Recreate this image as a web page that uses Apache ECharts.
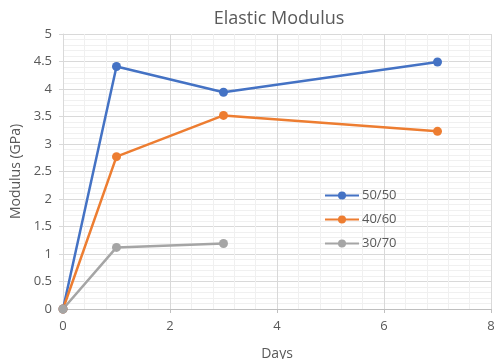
<!DOCTYPE html>
<html><head><meta charset="utf-8">
<script src="https://cdn.jsdelivr.net/npm/echarts@6/dist/echarts.min.js"></script>
<style>html,body{margin:0;padding:0;background:#fff}#c{width:495px;height:359px}</style>
</head><body><div id="c"></div>
<script>
const seriesNames = ['50/50', '40/60', '30/70'];
const days5050 = [0, 1, 3, 7];
const vals5050 = [0, 4.41, 3.94, 4.49];
const days4060 = [0, 1, 3, 7];
const vals4060 = [0, 2.77, 3.52, 3.23];
const days3070 = [0, 1, 3];
const vals3070 = [0, 1.12, 1.19];
const xTicks = [0, 2, 4, 6, 8];
const yTicks = [0, 0.5, 1, 1.5, 2, 2.5, 3, 3.5, 4, 4.5, 5];
const colors = ['#4472C4', '#ED7D31', '#A5A5A5'];

const pair = (xs, ys) => xs.map((x, i) => [x, ys[i]]);
const font = 'Open Sans';
const chart = echarts.init(document.getElementById('c'), null, {renderer: 'canvas'});
const mk = (name, data, color) => ({
  name, type: 'line', data, color,
  symbol: 'circle', symbolSize: 9,
  lineStyle: {width: 2.5, color},
  itemStyle: {color},
  animation: false
});
chart.setOption({
  animation: false,
  textStyle: {fontFamily: font},
  title: {
    text: 'Elastic Modulus', left: 274, textAlign: 'center', top: 5,
    textStyle: {fontFamily: font, fontSize: 18, fontWeight: 'normal', color: '#595959'}
  },
  legend: {
    orient: 'vertical', left: 319, top: 184, itemWidth: 34, itemHeight: 10, itemGap: 11,
    data: seriesNames,
    textStyle: {fontFamily: font, fontSize: 13, color: '#595959', padding: [0, 0, 0, -2]}
  },
  grid: {left: 63, right: 4, top: 34, bottom: 50, containLabel: false, outerBoundsMode: 'none'},
  xAxis: {
    type: 'value', min: xTicks[0], max: xTicks[xTicks.length - 1], interval: 2,
    name: 'Days', nameLocation: 'middle', nameGap: 38,
    nameTextStyle: {fontFamily: font, fontSize: 14, color: '#595959'},
    axisLine: {show: true, onZero: false, lineStyle: {color: '#bfbfbf', width: 1}},
    axisTick: {show: true, length: 4, lineStyle: {color: '#bfbfbf'}},
    axisLabel: {fontFamily: font, fontSize: 13, color: '#595959', margin: 11},
    splitLine: {show: true, lineStyle: {color: '#d9d9d9', width: 1}},
    minorTick: {show: false, splitNumber: 5},
    minorSplitLine: {show: true, lineStyle: {color: '#f0f0f0', width: 1}}
  },
  yAxis: {
    type: 'value', min: yTicks[0], max: yTicks[yTicks.length - 1], interval: 0.5,
    name: 'Modulus (GPa)', nameLocation: 'middle', nameGap: 38, nameRotate: 90,
    nameTextStyle: {fontFamily: font, fontSize: 14, color: '#595959'},
    axisLine: {show: true, lineStyle: {color: '#d9d9d9', width: 1}},
    axisTick: {show: true, length: 4, lineStyle: {color: '#d9d9d9'}},
    axisLabel: {fontFamily: font, fontSize: 13, color: '#595959', margin: 11},
    splitLine: {show: true, lineStyle: {color: '#d9d9d9', width: 1}},
    minorTick: {show: false, splitNumber: 5},
    minorSplitLine: {show: true, lineStyle: {color: '#f0f0f0', width: 1}}
  },
  series: [
    mk(seriesNames[0], pair(days5050, vals5050), colors[0]),
    mk(seriesNames[1], pair(days4060, vals4060), colors[1]),
    mk(seriesNames[2], pair(days3070, vals3070), colors[2])
  ]
});
</script></body></html>
